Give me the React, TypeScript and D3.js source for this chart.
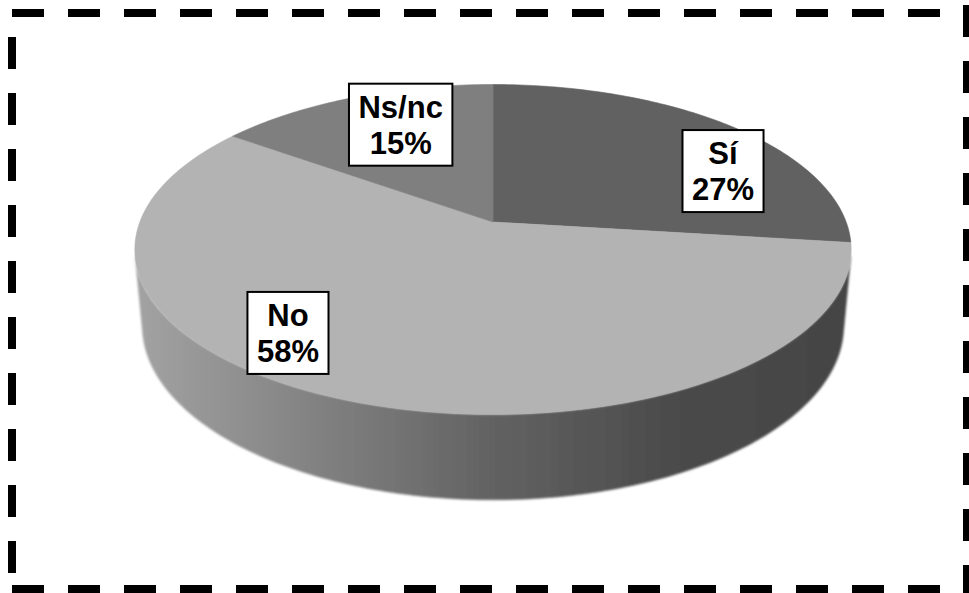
import React, { useEffect, useRef } from "react";
import * as d3 from "d3";

// ---- data ----
const categories: string[] = ["Sí", "No", "Ns/nc"];
const values: number[] = [27, 58, 15];

// ---- styles / layout ----
const topColors: string[] = ["#616161", "#b3b3b3", "#7f7f7f"];
// label anchors in the pie's own polar frame (angle in degrees clockwise from top, radius fraction)
const labelAngles: number[] = [64, 220, 336.7];
const labelRadii: number[] = [0.765, 0.81, 0.735];

const W = 969;
const H = 593;

export default function App() {
  const ref = useRef<SVGSVGElement | null>(null);

  useEffect(() => {
    const svg = d3.select(ref.current);
    svg.selectAll("*").remove();

    // projection parameters
    const alpha = (27 * Math.PI) / 180;
    const s = Math.sin(alpha);
    const c = Math.cos(alpha);
    const L = 5.36;
    const F = 1893;
    const depth = 0.245;
    const cx = 493;
    const cy = 222;

    const proj = (theta: number, r: number, y: number): [number, number] => {
      const x = r * Math.sin(theta);
      const z = -r * Math.cos(theta);
      const d = L - y * s - z * c;
      return [cx + (F * x) / d, cy - (F * (y * c - z * s)) / d];
    };

    const defs = svg.append("defs");
    const grad = defs
      .append("linearGradient")
      .attr("id", "wallGrad")
      .attr("gradientUnits", "userSpaceOnUse")
      .attr("x1", 134)
      .attr("x2", 852)
      .attr("y1", 0)
      .attr("y2", 0);
    [
      [0, "#a3a3a3"],
      [0.25, "#828282"],
      [0.5, "#626262"],
      [0.75, "#4b4b4b"],
      [1, "#444444"],
    ].forEach(([o, col]) => grad.append("stop").attr("offset", o as number).attr("stop-color", col as string));

    const blur = defs.append("filter").attr("id", "soft").attr("x", "-5%").attr("y", "-5%").attr("width", "110%").attr("height", "110%");
    blur.append("feGaussianBlur").attr("stdDeviation", 0.8);

    const pie = d3.pie<number>().sort(null).startAngle(0).endAngle(2 * Math.PI);
    const arcs = pie(values);

    const line = d3.line<[number, number]>();
    const sample = (a0: number, a1: number, r: number, y: number) => {
      const n = Math.max(2, Math.ceil(((a1 - a0) * 180) / Math.PI));
      const pts: [number, number][] = [];
      for (let i = 0; i <= n; i++) pts.push(proj(a0 + ((a1 - a0) * i) / n, r, y));
      return pts;
    };

    // visible part of the outer wall
    const v0 = Math.acos(-1 / (L * c));
    const v1 = 2 * Math.PI - v0;

    const walls = svg.append("g").attr("filter", "url(#soft)");
    arcs.forEach((a) => {
      const a0 = Math.max(a.startAngle, v0);
      const a1 = Math.min(a.endAngle, v1);
      if (a1 <= a0) return;
      const top = sample(a0, a1, 1, 0);
      const bot = sample(a0, a1, 1, -depth).reverse();
      walls
        .append("path")
        .attr("d", line([...top, ...bot])! + "Z")
        .attr("fill", "url(#wallGrad)")
        .attr("stroke", "url(#wallGrad)")
        .attr("stroke-width", 0.5);
    });

    const tops = svg.append("g");
    arcs.forEach((a, i) => {
      const pts = [proj(0, 0, 0), ...sample(a.startAngle, a.endAngle, 1, 0)];
      tops
        .append("path")
        .attr("d", line(pts)! + "Z")
        .attr("fill", topColors[i])
        .attr("stroke", topColors[i])
        .attr("stroke-width", 0.6);
    });

    // labels
    const lg = svg.append("g").attr("font-family", "'Liberation Sans', Arial, sans-serif").attr("font-weight", "bold").attr("font-size", 31);
    arcs.forEach((a, i) => {
      const [lx, ly] = proj((labelAngles[i] * Math.PI) / 180, labelRadii[i], 0);
      const g = lg.append("g").attr("transform", `translate(${lx},${ly})`);
      const rect = g.append("rect").attr("fill", "#fff").attr("stroke", "#000").attr("stroke-width", 2);
      const t1 = g.append("text").attr("text-anchor", "middle").attr("y", -7).text(categories[i]);
      const t2 = g.append("text").attr("text-anchor", "middle").attr("y", 29).text(`${values[i]}%`);
      const w = Math.max((t1.node() as SVGTextElement).getComputedTextLength(), (t2.node() as SVGTextElement).getComputedTextLength()) + 19;
      const h = 82;
      rect.attr("x", -w / 2).attr("y", -h / 2).attr("width", w).attr("height", h);
    });

    // dashed border
    const border = svg.append("g").attr("stroke", "#000").attr("stroke-width", 8).attr("stroke-dasharray", "32 24").attr("fill", "none");
    border.append("line").attr("x1", 12).attr("y1", 13).attr("x2", W + 20).attr("y2", 13);
    border.append("line").attr("x1", 12).attr("y1", 589).attr("x2", W + 20).attr("y2", 589);
    border.append("line").attr("x1", 12).attr("y1", 37).attr("x2", 12).attr("y2", H + 20);
    border.append("line").attr("x1", 967).attr("y1", 5).attr("x2", 967).attr("y2", H + 20);
  }, []);

  return (
    <svg
      ref={ref}
      width={W}
      height={H}
      style={{ position: "absolute", left: 0, top: 0, background: "#fff" }}
    />
  );
}
